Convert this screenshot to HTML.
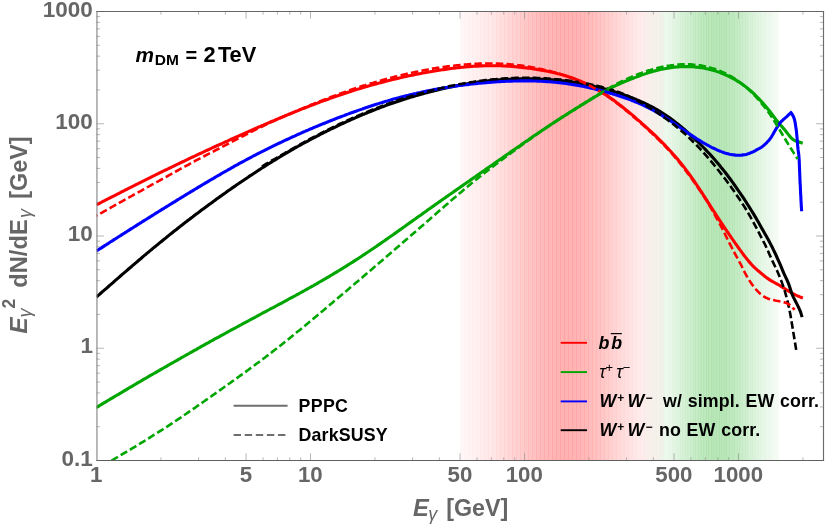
<!DOCTYPE html>
<html><head><meta charset="utf-8"><title>chart</title>
<style>html,body{margin:0;padding:0;background:#fff;}body{width:830px;height:527px;overflow:hidden;font-family:"Liberation Sans",sans-serif;}svg{display:block;will-change:transform;}</style></head>
<body>
<svg width="830" height="527" viewBox="0 0 830 527">
<rect x="0" y="0" width="830" height="527" fill="#fff"/>
<rect x="460.00" y="11.5" width="4.25" height="449.0" fill="#ff0000" fill-opacity="0.033"/>
<rect x="464.00" y="11.5" width="4.25" height="449.0" fill="#ff0000" fill-opacity="0.039"/>
<rect x="468.00" y="11.5" width="4.25" height="449.0" fill="#ff0000" fill-opacity="0.046"/>
<rect x="472.00" y="11.5" width="4.25" height="449.0" fill="#ff0000" fill-opacity="0.053"/>
<rect x="476.00" y="11.5" width="4.25" height="449.0" fill="#ff0000" fill-opacity="0.062"/>
<rect x="480.00" y="11.5" width="4.25" height="449.0" fill="#ff0000" fill-opacity="0.071"/>
<rect x="484.00" y="11.5" width="4.25" height="449.0" fill="#ff0000" fill-opacity="0.081"/>
<rect x="488.00" y="11.5" width="4.25" height="449.0" fill="#ff0000" fill-opacity="0.092"/>
<rect x="492.00" y="11.5" width="4.25" height="449.0" fill="#ff0000" fill-opacity="0.103"/>
<rect x="496.00" y="11.5" width="4.25" height="449.0" fill="#ff0000" fill-opacity="0.116"/>
<rect x="500.00" y="11.5" width="4.25" height="449.0" fill="#ff0000" fill-opacity="0.129"/>
<rect x="504.00" y="11.5" width="4.25" height="449.0" fill="#ff0000" fill-opacity="0.143"/>
<rect x="508.00" y="11.5" width="4.25" height="449.0" fill="#ff0000" fill-opacity="0.157"/>
<rect x="512.00" y="11.5" width="4.25" height="449.0" fill="#ff0000" fill-opacity="0.171"/>
<rect x="516.00" y="11.5" width="4.25" height="449.0" fill="#ff0000" fill-opacity="0.186"/>
<rect x="520.00" y="11.5" width="4.25" height="449.0" fill="#ff0000" fill-opacity="0.200"/>
<rect x="524.00" y="11.5" width="4.25" height="449.0" fill="#ff0000" fill-opacity="0.214"/>
<rect x="528.00" y="11.5" width="4.25" height="449.0" fill="#ff0000" fill-opacity="0.228"/>
<rect x="532.00" y="11.5" width="4.25" height="449.0" fill="#ff0000" fill-opacity="0.241"/>
<rect x="536.00" y="11.5" width="4.25" height="449.0" fill="#ff0000" fill-opacity="0.254"/>
<rect x="540.00" y="11.5" width="4.25" height="449.0" fill="#ff0000" fill-opacity="0.265"/>
<rect x="544.00" y="11.5" width="4.25" height="449.0" fill="#ff0000" fill-opacity="0.275"/>
<rect x="548.00" y="11.5" width="4.25" height="449.0" fill="#ff0000" fill-opacity="0.283"/>
<rect x="552.00" y="11.5" width="4.25" height="449.0" fill="#ff0000" fill-opacity="0.290"/>
<rect x="556.00" y="11.5" width="4.25" height="449.0" fill="#ff0000" fill-opacity="0.295"/>
<rect x="560.00" y="11.5" width="4.25" height="449.0" fill="#ff0000" fill-opacity="0.299"/>
<rect x="564.00" y="11.5" width="4.25" height="449.0" fill="#ff0000" fill-opacity="0.300"/>
<rect x="568.00" y="11.5" width="4.25" height="449.0" fill="#ff0000" fill-opacity="0.299"/>
<rect x="572.00" y="11.5" width="4.25" height="449.0" fill="#ff0000" fill-opacity="0.296"/>
<rect x="576.00" y="11.5" width="4.25" height="449.0" fill="#ff0000" fill-opacity="0.291"/>
<rect x="580.00" y="11.5" width="4.25" height="449.0" fill="#ff0000" fill-opacity="0.283"/>
<rect x="584.00" y="11.5" width="4.25" height="449.0" fill="#ff0000" fill-opacity="0.273"/>
<rect x="588.00" y="11.5" width="4.25" height="449.0" fill="#ff0000" fill-opacity="0.262"/>
<rect x="592.00" y="11.5" width="4.25" height="449.0" fill="#ff0000" fill-opacity="0.249"/>
<rect x="596.00" y="11.5" width="4.25" height="449.0" fill="#ff0000" fill-opacity="0.234"/>
<rect x="600.00" y="11.5" width="4.25" height="449.0" fill="#ff0000" fill-opacity="0.219"/>
<rect x="604.00" y="11.5" width="4.25" height="449.0" fill="#ff0000" fill-opacity="0.203"/>
<rect x="608.00" y="11.5" width="4.25" height="449.0" fill="#ff0000" fill-opacity="0.186"/>
<rect x="612.00" y="11.5" width="4.25" height="449.0" fill="#ff0000" fill-opacity="0.170"/>
<rect x="616.00" y="11.5" width="4.25" height="449.0" fill="#ff0000" fill-opacity="0.153"/>
<rect x="620.00" y="11.5" width="4.25" height="449.0" fill="#ff0000" fill-opacity="0.137"/>
<rect x="624.00" y="11.5" width="4.25" height="449.0" fill="#ff0000" fill-opacity="0.122"/>
<rect x="628.00" y="11.5" width="4.25" height="449.0" fill="#ff0000" fill-opacity="0.108"/>
<rect x="632.00" y="11.5" width="4.25" height="449.0" fill="#ff0000" fill-opacity="0.094"/>
<rect x="636.00" y="11.5" width="4.25" height="449.0" fill="#ff0000" fill-opacity="0.082"/>
<rect x="640.00" y="11.5" width="4.25" height="449.0" fill="#ff0000" fill-opacity="0.070"/>
<rect x="644.00" y="11.5" width="4.25" height="449.0" fill="#ff0000" fill-opacity="0.060"/>
<rect x="648.00" y="11.5" width="4.25" height="449.0" fill="#ff0000" fill-opacity="0.051"/>
<rect x="652.00" y="11.5" width="4.25" height="449.0" fill="#ff0000" fill-opacity="0.042"/>
<rect x="656.00" y="11.5" width="4.25" height="449.0" fill="#ff0000" fill-opacity="0.035"/>
<rect x="660.00" y="11.5" width="4.25" height="449.0" fill="#ff0000" fill-opacity="0.029"/>
<rect x="643.60" y="11.5" width="2.85" height="449.0" fill="#00a600" fill-opacity="0.018"/>
<rect x="646.20" y="11.5" width="2.85" height="449.0" fill="#00a600" fill-opacity="0.022"/>
<rect x="648.80" y="11.5" width="2.85" height="449.0" fill="#00a600" fill-opacity="0.027"/>
<rect x="651.40" y="11.5" width="2.85" height="449.0" fill="#00a600" fill-opacity="0.032"/>
<rect x="654.00" y="11.5" width="2.85" height="449.0" fill="#00a600" fill-opacity="0.038"/>
<rect x="656.60" y="11.5" width="2.85" height="449.0" fill="#00a600" fill-opacity="0.045"/>
<rect x="659.20" y="11.5" width="2.85" height="449.0" fill="#00a600" fill-opacity="0.052"/>
<rect x="661.80" y="11.5" width="2.85" height="449.0" fill="#00a600" fill-opacity="0.061"/>
<rect x="664.40" y="11.5" width="2.85" height="449.0" fill="#00a600" fill-opacity="0.070"/>
<rect x="667.00" y="11.5" width="2.85" height="449.0" fill="#00a600" fill-opacity="0.080"/>
<rect x="669.60" y="11.5" width="2.85" height="449.0" fill="#00a600" fill-opacity="0.091"/>
<rect x="672.20" y="11.5" width="2.85" height="449.0" fill="#00a600" fill-opacity="0.103"/>
<rect x="674.80" y="11.5" width="2.85" height="449.0" fill="#00a600" fill-opacity="0.115"/>
<rect x="677.40" y="11.5" width="2.85" height="449.0" fill="#00a600" fill-opacity="0.128"/>
<rect x="680.00" y="11.5" width="2.85" height="449.0" fill="#00a600" fill-opacity="0.142"/>
<rect x="682.60" y="11.5" width="2.85" height="449.0" fill="#00a600" fill-opacity="0.156"/>
<rect x="685.20" y="11.5" width="2.85" height="449.0" fill="#00a600" fill-opacity="0.169"/>
<rect x="687.80" y="11.5" width="2.85" height="449.0" fill="#00a600" fill-opacity="0.183"/>
<rect x="690.40" y="11.5" width="2.85" height="449.0" fill="#00a600" fill-opacity="0.197"/>
<rect x="693.00" y="11.5" width="2.85" height="449.0" fill="#00a600" fill-opacity="0.210"/>
<rect x="695.60" y="11.5" width="2.85" height="449.0" fill="#00a600" fill-opacity="0.223"/>
<rect x="698.20" y="11.5" width="2.85" height="449.0" fill="#00a600" fill-opacity="0.234"/>
<rect x="700.80" y="11.5" width="2.85" height="449.0" fill="#00a600" fill-opacity="0.245"/>
<rect x="703.40" y="11.5" width="2.85" height="449.0" fill="#00a600" fill-opacity="0.254"/>
<rect x="706.00" y="11.5" width="2.85" height="449.0" fill="#00a600" fill-opacity="0.262"/>
<rect x="708.60" y="11.5" width="2.85" height="449.0" fill="#00a600" fill-opacity="0.268"/>
<rect x="711.20" y="11.5" width="2.85" height="449.0" fill="#00a600" fill-opacity="0.272"/>
<rect x="713.80" y="11.5" width="2.85" height="449.0" fill="#00a600" fill-opacity="0.274"/>
<rect x="716.40" y="11.5" width="2.85" height="449.0" fill="#00a600" fill-opacity="0.275"/>
<rect x="719.00" y="11.5" width="2.85" height="449.0" fill="#00a600" fill-opacity="0.273"/>
<rect x="721.60" y="11.5" width="2.85" height="449.0" fill="#00a600" fill-opacity="0.270"/>
<rect x="724.20" y="11.5" width="2.85" height="449.0" fill="#00a600" fill-opacity="0.265"/>
<rect x="726.80" y="11.5" width="2.85" height="449.0" fill="#00a600" fill-opacity="0.258"/>
<rect x="729.40" y="11.5" width="2.85" height="449.0" fill="#00a600" fill-opacity="0.249"/>
<rect x="732.00" y="11.5" width="2.85" height="449.0" fill="#00a600" fill-opacity="0.239"/>
<rect x="734.60" y="11.5" width="2.85" height="449.0" fill="#00a600" fill-opacity="0.228"/>
<rect x="737.20" y="11.5" width="2.85" height="449.0" fill="#00a600" fill-opacity="0.216"/>
<rect x="739.80" y="11.5" width="2.85" height="449.0" fill="#00a600" fill-opacity="0.203"/>
<rect x="742.40" y="11.5" width="2.85" height="449.0" fill="#00a600" fill-opacity="0.190"/>
<rect x="745.00" y="11.5" width="2.85" height="449.0" fill="#00a600" fill-opacity="0.176"/>
<rect x="747.60" y="11.5" width="2.85" height="449.0" fill="#00a600" fill-opacity="0.162"/>
<rect x="750.20" y="11.5" width="2.85" height="449.0" fill="#00a600" fill-opacity="0.148"/>
<rect x="752.80" y="11.5" width="2.85" height="449.0" fill="#00a600" fill-opacity="0.134"/>
<rect x="755.40" y="11.5" width="2.85" height="449.0" fill="#00a600" fill-opacity="0.121"/>
<rect x="758.00" y="11.5" width="2.85" height="449.0" fill="#00a600" fill-opacity="0.108"/>
<rect x="760.60" y="11.5" width="2.85" height="449.0" fill="#00a600" fill-opacity="0.096"/>
<rect x="763.20" y="11.5" width="2.85" height="449.0" fill="#00a600" fill-opacity="0.085"/>
<rect x="765.80" y="11.5" width="2.85" height="449.0" fill="#00a600" fill-opacity="0.075"/>
<rect x="768.40" y="11.5" width="2.85" height="449.0" fill="#00a600" fill-opacity="0.065"/>
<rect x="771.00" y="11.5" width="2.85" height="449.0" fill="#00a600" fill-opacity="0.056"/>
<rect x="773.60" y="11.5" width="2.85" height="449.0" fill="#00a600" fill-opacity="0.048"/>
<rect x="776.20" y="11.5" width="2.55" height="449.0" fill="#00a600" fill-opacity="0.041"/>
<path d="M160.92 460.50 v-3.20 M160.92 11.50 v3.20 M198.60 460.50 v-3.20 M198.60 11.50 v3.20 M225.34 460.50 v-3.20 M225.34 11.50 v3.20 M246.08 460.50 v-7.20 M246.08 11.50 v7.20 M263.02 460.50 v-3.20 M263.02 11.50 v3.20 M277.35 460.50 v-3.20 M277.35 11.50 v3.20 M289.76 460.50 v-3.20 M289.76 11.50 v3.20 M300.71 460.50 v-3.20 M300.71 11.50 v3.20 M310.50 460.50 v-7.20 M310.50 11.50 v7.20 M374.92 460.50 v-3.20 M374.92 11.50 v3.20 M412.60 460.50 v-3.20 M412.60 11.50 v3.20 M439.34 460.50 v-3.20 M439.34 11.50 v3.20 M460.08 460.50 v-7.20 M460.08 11.50 v7.20 M477.02 460.50 v-3.20 M477.02 11.50 v3.20 M491.35 460.50 v-3.20 M491.35 11.50 v3.20 M503.76 460.50 v-3.20 M503.76 11.50 v3.20 M514.71 460.50 v-3.20 M514.71 11.50 v3.20 M524.50 460.50 v-7.20 M524.50 11.50 v7.20 M588.92 460.50 v-3.20 M588.92 11.50 v3.20 M626.60 460.50 v-3.20 M626.60 11.50 v3.20 M653.34 460.50 v-3.20 M653.34 11.50 v3.20 M674.08 460.50 v-7.20 M674.08 11.50 v7.20 M691.02 460.50 v-3.20 M691.02 11.50 v3.20 M705.35 460.50 v-3.20 M705.35 11.50 v3.20 M717.76 460.50 v-3.20 M717.76 11.50 v3.20 M728.71 460.50 v-3.20 M728.71 11.50 v3.20 M738.50 460.50 v-7.20 M738.50 11.50 v7.20 M802.92 460.50 v-3.20 M802.92 11.50 v3.20 M96.50 426.71 h3.60 M823.50 426.71 h-3.60 M96.50 406.94 h3.60 M823.50 406.94 h-3.60 M96.50 392.92 h3.60 M823.50 392.92 h-3.60 M96.50 382.04 h3.60 M823.50 382.04 h-3.60 M96.50 373.15 h3.60 M823.50 373.15 h-3.60 M96.50 365.64 h3.60 M823.50 365.64 h-3.60 M96.50 359.13 h3.60 M823.50 359.13 h-3.60 M96.50 353.39 h3.60 M823.50 353.39 h-3.60 M96.50 348.25 h7.50 M823.50 348.25 h-7.50 M96.50 314.46 h3.60 M823.50 314.46 h-3.60 M96.50 294.69 h3.60 M823.50 294.69 h-3.60 M96.50 280.67 h3.60 M823.50 280.67 h-3.60 M96.50 269.79 h3.60 M823.50 269.79 h-3.60 M96.50 260.90 h3.60 M823.50 260.90 h-3.60 M96.50 253.39 h3.60 M823.50 253.39 h-3.60 M96.50 246.88 h3.60 M823.50 246.88 h-3.60 M96.50 241.14 h3.60 M823.50 241.14 h-3.60 M96.50 236.00 h7.50 M823.50 236.00 h-7.50 M96.50 202.21 h3.60 M823.50 202.21 h-3.60 M96.50 182.44 h3.60 M823.50 182.44 h-3.60 M96.50 168.42 h3.60 M823.50 168.42 h-3.60 M96.50 157.54 h3.60 M823.50 157.54 h-3.60 M96.50 148.65 h3.60 M823.50 148.65 h-3.60 M96.50 141.14 h3.60 M823.50 141.14 h-3.60 M96.50 134.63 h3.60 M823.50 134.63 h-3.60 M96.50 128.89 h3.60 M823.50 128.89 h-3.60 M96.50 123.75 h7.50 M823.50 123.75 h-7.50 M96.50 89.96 h3.60 M823.50 89.96 h-3.60 M96.50 70.19 h3.60 M823.50 70.19 h-3.60 M96.50 56.17 h3.60 M823.50 56.17 h-3.60 M96.50 45.29 h3.60 M823.50 45.29 h-3.60 M96.50 36.40 h3.60 M823.50 36.40 h-3.60 M96.50 28.89 h3.60 M823.50 28.89 h-3.60 M96.50 22.38 h3.60 M823.50 22.38 h-3.60 M96.50 16.64 h3.60 M823.50 16.64 h-3.60" stroke="#888" stroke-width="0.6" fill="none"/>
<clipPath id="cp"><rect x="96.5" y="11.5" width="727.0" height="449.0"/></clipPath>
<g clip-path="url(#cp)">
<path d="M96.5 204.8 L98.0 204.0 L99.5 203.3 L101.0 202.5 L102.5 201.7 L104.0 201.0 L105.5 200.2 L107.0 199.4 L108.5 198.7 L110.0 197.9 L111.5 197.1 L113.0 196.3 L114.5 195.6 L116.0 194.8 L117.5 194.0 L119.0 193.3 L120.5 192.5 L122.1 191.7 L123.6 191.0 L125.1 190.2 L126.6 189.5 L128.1 188.7 L129.6 187.9 L131.1 187.2 L132.6 186.4 L134.1 185.7 L135.6 184.9 L137.1 184.1 L138.6 183.4 L140.1 182.6 L141.6 181.9 L143.1 181.1 L144.6 180.4 L146.1 179.6 L147.6 178.9 L149.1 178.1 L150.6 177.4 L152.1 176.6 L153.6 175.9 L155.1 175.2 L156.6 174.4 L158.1 173.7 L159.6 172.9 L161.1 172.2 L162.6 171.5 L164.1 170.7 L165.6 170.0 L167.1 169.3 L168.6 168.5 L170.1 167.8 L171.6 167.1 L173.2 166.4 L174.7 165.6 L176.2 164.9 L177.7 164.2 L179.2 163.5 L180.7 162.7 L182.2 162.0 L183.7 161.3 L185.2 160.6 L186.7 159.9 L188.2 159.2 L189.7 158.4 L191.2 157.7 L192.7 157.0 L194.2 156.3 L195.7 155.6 L197.2 154.9 L198.7 154.2 L200.2 153.5 L201.7 152.8 L203.2 152.1 L204.7 151.4 L206.2 150.7 L207.7 150.0 L209.2 149.3 L210.7 148.6 L212.2 147.9 L213.7 147.2 L215.2 146.5 L216.7 145.8 L218.2 145.2 L219.7 144.5 L221.2 143.8 L222.8 143.1 L224.3 142.4 L225.8 141.7 L227.3 141.1 L228.8 140.4 L230.3 139.7 L231.8 139.0 L233.3 138.3 L234.8 137.7 L236.3 137.0 L237.8 136.3 L239.3 135.6 L240.8 135.0 L242.3 134.3 L243.8 133.6 L245.3 133.0 L246.8 132.3 L248.3 131.6 L249.8 131.0 L251.3 130.3 L252.8 129.7 L254.3 129.0 L255.8 128.3 L257.3 127.7 L258.8 127.0 L260.3 126.4 L261.8 125.7 L263.3 125.1 L264.8 124.4 L266.3 123.8 L267.8 123.1 L269.3 122.5 L270.8 121.8 L272.3 121.2 L273.9 120.6 L275.4 119.9 L276.9 119.3 L278.4 118.7 L279.9 118.0 L281.4 117.4 L282.9 116.8 L284.4 116.2 L285.9 115.5 L287.4 114.9 L288.9 114.3 L290.4 113.7 L291.9 113.1 L293.4 112.5 L294.9 111.9 L296.4 111.2 L297.9 110.6 L299.4 110.0 L300.9 109.4 L302.4 108.8 L303.9 108.3 L305.4 107.7 L306.9 107.1 L308.4 106.5 L309.9 105.9 L311.4 105.3 L312.9 104.8 L314.4 104.2 L315.9 103.6 L317.4 103.1 L318.9 102.5 L320.4 101.9 L321.9 101.4 L323.4 100.8 L325.0 100.3 L326.5 99.7 L328.0 99.2 L329.5 98.6 L331.0 98.1 L332.5 97.6 L334.0 97.0 L335.5 96.5 L337.0 96.0 L338.5 95.5 L340.0 95.0 L341.5 94.5 L343.0 94.0 L344.5 93.5 L346.0 93.0 L347.5 92.5 L349.0 92.0 L350.5 91.5 L352.0 91.0 L353.5 90.5 L355.0 90.1 L356.5 89.6 L358.0 89.1 L359.5 88.7 L361.0 88.2 L362.5 87.8 L364.0 87.3 L365.5 86.9 L367.0 86.4 L368.5 86.0 L370.0 85.6 L371.5 85.1 L373.0 84.7 L374.6 84.3 L376.1 83.9 L377.6 83.5 L379.1 83.1 L380.6 82.7 L382.1 82.3 L383.6 81.9 L385.1 81.5 L386.6 81.1 L388.1 80.7 L389.6 80.3 L391.1 80.0 L392.6 79.6 L394.1 79.2 L395.6 78.9 L397.1 78.5 L398.6 78.2 L400.1 77.8 L401.6 77.5 L403.1 77.1 L404.6 76.8 L406.1 76.5 L407.6 76.1 L409.1 75.8 L410.6 75.5 L412.1 75.2 L413.6 74.9 L415.1 74.6 L416.6 74.3 L418.1 74.0 L419.6 73.7 L421.1 73.4 L422.6 73.1 L424.1 72.8 L425.7 72.6 L427.2 72.3 L428.7 72.0 L430.2 71.8 L431.7 71.5 L433.2 71.2 L434.7 71.0 L436.2 70.7 L437.7 70.5 L439.2 70.3 L440.7 70.0 L442.2 69.8 L443.7 69.6 L445.2 69.4 L446.7 69.1 L448.2 68.9 L449.7 68.7 L451.2 68.5 L452.7 68.3 L454.2 68.2 L455.7 68.0 L457.2 67.8 L458.7 67.6 L460.2 67.5 L461.7 67.3 L463.2 67.2 L464.7 67.0 L466.2 66.9 L467.7 66.8 L469.2 66.6 L470.7 66.5 L472.2 66.4 L473.7 66.3 L475.3 66.2 L476.8 66.1 L478.3 66.1 L479.8 66.0 L481.3 65.9 L482.8 65.9 L484.3 65.8 L485.8 65.8 L487.3 65.7 L488.8 65.7 L490.3 65.7 L491.8 65.7 L493.3 65.7 L494.8 65.7 L496.3 65.7 L497.8 65.8 L499.3 65.8 L500.8 65.8 L502.3 65.9 L503.8 66.0 L505.3 66.0 L506.8 66.1 L508.3 66.2 L509.8 66.3 L511.3 66.4 L512.8 66.5 L514.3 66.6 L515.8 66.8 L517.3 66.9 L518.8 67.1 L520.3 67.2 L521.8 67.4 L523.3 67.6 L524.8 67.7 L526.4 67.9 L527.9 68.1 L529.4 68.3 L530.9 68.5 L532.4 68.7 L533.9 69.0 L535.4 69.2 L536.9 69.4 L538.4 69.7 L539.9 69.9 L541.4 70.2 L542.9 70.5 L544.4 70.7 L545.9 71.0 L547.4 71.3 L548.9 71.6 L550.4 71.9 L551.9 72.3 L553.4 72.6 L554.9 72.9 L556.4 73.3 L557.9 73.7 L559.4 74.0 L560.9 74.4 L562.4 74.9 L563.9 75.3 L565.4 75.7 L566.9 76.2 L568.4 76.7 L569.9 77.2 L571.4 77.7 L572.9 78.2 L574.4 78.8 L576.0 79.4 L577.5 79.9 L579.0 80.6 L580.5 81.2 L582.0 81.9 L583.5 82.5 L585.0 83.2 L586.5 83.9 L588.0 84.7 L589.5 85.4 L591.0 86.2 L592.5 86.9 L594.0 87.7 L595.5 88.6 L597.0 89.4 L598.5 90.2 L600.0 91.1 L601.5 92.0 L603.0 93.0 L604.5 93.9 L606.0 94.9 L607.5 95.9 L609.0 96.9 L610.5 98.0 L612.0 99.0 L613.5 100.1 L615.0 101.2 L616.5 102.4 L618.0 103.5 L619.5 104.7 L621.0 105.8 L622.5 107.0 L624.0 108.2 L625.5 109.5 L627.1 110.7 L628.6 111.9 L630.1 113.2 L631.6 114.4 L633.1 115.7 L634.6 117.0 L636.1 118.3 L637.6 119.6 L639.1 120.9 L640.6 122.2 L642.1 123.6 L643.6 124.9 L645.1 126.2 L646.6 127.6 L648.1 129.0 L649.6 130.3 L651.1 131.7 L652.6 133.1 L654.1 134.5 L655.6 135.9 L657.1 137.4 L658.6 138.9 L660.1 140.3 L661.6 141.8 L663.1 143.3 L664.6 144.9 L666.1 146.5 L667.6 148.0 L669.1 149.7 L670.6 151.3 L672.1 153.0 L673.6 154.7 L675.1 156.4 L676.6 158.1 L678.2 159.9 L679.7 161.8 L681.2 163.6 L682.7 165.5 L684.2 167.4 L685.7 169.4 L687.2 171.4 L688.7 173.4 L690.2 175.5 L691.7 177.6 L693.2 179.7 L694.7 181.9 L696.2 184.1 L697.7 186.3 L699.2 188.6 L700.7 190.9 L702.2 193.2 L703.7 195.5 L705.2 197.9 L706.7 200.2 L708.2 202.6 L709.7 204.9 L711.2 207.3 L712.7 209.6 L714.2 211.9 L715.7 214.2 L717.2 216.5 L718.7 218.8 L720.2 221.1 L721.7 223.4 L723.2 225.6 L724.7 227.9 L726.2 230.1 L727.8 232.4 L729.3 234.6 L730.8 236.8 L732.3 239.0 L733.8 241.1 L735.3 243.3 L736.8 245.4 L738.3 247.5 L739.8 249.6 L741.3 251.6 L742.8 253.7 L744.3 255.7 L745.8 257.6 L747.3 259.5 L748.8 261.4 L750.3 263.1 L751.8 264.8 L753.3 266.4 L754.8 267.8 L756.3 269.2 L757.8 270.5 L759.3 271.7 L760.8 273.0 L762.3 274.2 L763.8 275.5 L765.3 276.7 L766.8 277.9 L768.3 278.9 L769.8 279.9 L771.3 280.8 L772.8 281.7 L774.3 282.5 L775.8 283.3 L777.3 284.1 L778.9 285.0 L780.4 285.9 L781.9 286.9 L783.4 287.8 L784.9 288.8 L786.4 289.8 L787.9 290.7 L789.4 291.6 L790.9 292.4 L792.4 293.3 L793.9 294.1 L795.4 294.9 L796.9 295.6 L798.4 296.2 L799.9 296.9 L801.4 297.5 L802.9 298.0" stroke="#ff0000" stroke-width="3.10" fill="none" stroke-linejoin="round" stroke-linecap="butt"/>
<path d="M96.5 297.0 L98.0 295.7 L99.5 294.4 L101.0 293.0 L102.5 291.7 L104.0 290.4 L105.5 289.1 L107.0 287.8 L108.5 286.5 L110.0 285.2 L111.5 283.9 L113.0 282.6 L114.5 281.2 L116.0 279.9 L117.5 278.6 L119.0 277.3 L120.5 276.0 L122.0 274.7 L123.5 273.4 L125.0 272.1 L126.5 270.8 L128.0 269.5 L129.5 268.2 L131.0 267.0 L132.5 265.7 L134.0 264.4 L135.5 263.1 L137.0 261.8 L138.5 260.5 L140.0 259.3 L141.5 258.0 L143.0 256.7 L144.5 255.4 L146.0 254.2 L147.5 252.9 L149.0 251.7 L150.5 250.4 L152.0 249.2 L153.5 247.9 L155.0 246.7 L156.6 245.4 L158.1 244.2 L159.6 242.9 L161.1 241.7 L162.6 240.5 L164.1 239.3 L165.6 238.1 L167.1 236.8 L168.6 235.6 L170.1 234.4 L171.6 233.2 L173.1 232.0 L174.6 230.8 L176.1 229.7 L177.6 228.5 L179.1 227.3 L180.6 226.1 L182.1 225.0 L183.6 223.8 L185.1 222.6 L186.6 221.5 L188.1 220.3 L189.6 219.2 L191.1 218.0 L192.6 216.9 L194.1 215.7 L195.6 214.6 L197.1 213.5 L198.6 212.4 L200.1 211.2 L201.6 210.1 L203.1 209.0 L204.6 207.9 L206.1 206.8 L207.6 205.7 L209.1 204.6 L210.6 203.5 L212.1 202.4 L213.6 201.3 L215.1 200.2 L216.6 199.1 L218.1 198.0 L219.6 196.9 L221.1 195.9 L222.6 194.8 L224.1 193.7 L225.6 192.7 L227.1 191.6 L228.6 190.5 L230.1 189.5 L231.6 188.4 L233.1 187.4 L234.6 186.4 L236.1 185.3 L237.6 184.3 L239.1 183.3 L240.6 182.2 L242.1 181.2 L243.6 180.2 L245.1 179.2 L246.6 178.2 L248.1 177.2 L249.6 176.1 L251.1 175.2 L252.6 174.2 L254.1 173.2 L255.6 172.2 L257.1 171.2 L258.6 170.2 L260.1 169.3 L261.6 168.3 L263.1 167.3 L264.6 166.4 L266.1 165.4 L267.6 164.5 L269.1 163.5 L270.6 162.6 L272.1 161.6 L273.7 160.7 L275.2 159.8 L276.7 158.9 L278.2 158.0 L279.7 157.0 L281.2 156.1 L282.7 155.2 L284.2 154.4 L285.7 153.5 L287.2 152.6 L288.7 151.7 L290.2 150.8 L291.7 150.0 L293.2 149.1 L294.7 148.2 L296.2 147.4 L297.7 146.5 L299.2 145.7 L300.7 144.9 L302.2 144.0 L303.7 143.2 L305.2 142.4 L306.7 141.6 L308.2 140.8 L309.7 140.0 L311.2 139.2 L312.7 138.4 L314.2 137.6 L315.7 136.8 L317.2 136.0 L318.7 135.3 L320.2 134.5 L321.7 133.7 L323.2 133.0 L324.7 132.2 L326.2 131.5 L327.7 130.7 L329.2 130.0 L330.7 129.2 L332.2 128.5 L333.7 127.8 L335.2 127.1 L336.7 126.3 L338.2 125.6 L339.7 124.9 L341.2 124.2 L342.7 123.5 L344.2 122.8 L345.7 122.1 L347.2 121.4 L348.7 120.8 L350.2 120.1 L351.7 119.4 L353.2 118.8 L354.7 118.1 L356.2 117.4 L357.7 116.8 L359.2 116.1 L360.7 115.5 L362.2 114.9 L363.7 114.2 L365.2 113.6 L366.7 113.0 L368.2 112.4 L369.7 111.8 L371.2 111.2 L372.7 110.6 L374.2 110.0 L375.7 109.4 L377.2 108.8 L378.7 108.2 L380.2 107.6 L381.7 107.1 L383.2 106.5 L384.7 106.0 L386.2 105.4 L387.7 104.9 L389.2 104.3 L390.8 103.8 L392.3 103.3 L393.8 102.7 L395.3 102.2 L396.8 101.7 L398.3 101.2 L399.8 100.7 L401.3 100.2 L402.8 99.7 L404.3 99.3 L405.8 98.8 L407.3 98.3 L408.8 97.9 L410.3 97.4 L411.8 96.9 L413.3 96.5 L414.8 96.1 L416.3 95.6 L417.8 95.2 L419.3 94.8 L420.8 94.3 L422.3 93.9 L423.8 93.5 L425.3 93.1 L426.8 92.7 L428.3 92.3 L429.8 91.9 L431.3 91.5 L432.8 91.2 L434.3 90.8 L435.8 90.4 L437.3 90.0 L438.8 89.7 L440.3 89.3 L441.8 89.0 L443.3 88.6 L444.8 88.3 L446.3 88.0 L447.8 87.6 L449.3 87.3 L450.8 87.0 L452.3 86.7 L453.8 86.3 L455.3 86.0 L456.8 85.7 L458.3 85.4 L459.8 85.2 L461.3 84.9 L462.8 84.6 L464.3 84.3 L465.8 84.1 L467.3 83.8 L468.8 83.5 L470.3 83.3 L471.8 83.0 L473.3 82.8 L474.8 82.6 L476.3 82.4 L477.8 82.1 L479.3 81.9 L480.8 81.7 L482.3 81.5 L483.8 81.3 L485.3 81.1 L486.8 81.0 L488.3 80.8 L489.8 80.6 L491.3 80.5 L492.8 80.3 L494.3 80.2 L495.8 80.1 L497.3 79.9 L498.8 79.8 L500.3 79.7 L501.8 79.6 L503.3 79.5 L504.8 79.4 L506.3 79.3 L507.8 79.2 L509.4 79.2 L510.9 79.1 L512.4 79.0 L513.9 79.0 L515.4 78.9 L516.9 78.9 L518.4 78.9 L519.9 78.8 L521.4 78.8 L522.9 78.8 L524.4 78.8 L525.9 78.8 L527.4 78.8 L528.9 78.8 L530.4 78.8 L531.9 78.9 L533.4 78.9 L534.9 78.9 L536.4 79.0 L537.9 79.0 L539.4 79.1 L540.9 79.2 L542.4 79.2 L543.9 79.3 L545.4 79.4 L546.9 79.5 L548.4 79.6 L549.9 79.7 L551.4 79.8 L552.9 79.9 L554.4 80.0 L555.9 80.2 L557.4 80.3 L558.9 80.5 L560.4 80.6 L561.9 80.8 L563.4 80.9 L564.9 81.1 L566.4 81.3 L567.9 81.5 L569.4 81.7 L570.9 81.9 L572.4 82.1 L573.9 82.3 L575.4 82.6 L576.9 82.8 L578.4 83.1 L579.9 83.3 L581.4 83.6 L582.9 83.8 L584.4 84.1 L585.9 84.4 L587.4 84.7 L588.9 85.0 L590.4 85.4 L591.9 85.7 L593.4 86.0 L594.9 86.4 L596.4 86.7 L597.9 87.1 L599.4 87.5 L600.9 87.8 L602.4 88.2 L603.9 88.6 L605.4 89.1 L606.9 89.5 L608.4 89.9 L609.9 90.3 L611.4 90.8 L612.9 91.2 L614.4 91.7 L615.9 92.2 L617.4 92.7 L618.9 93.1 L620.4 93.6 L621.9 94.2 L623.4 94.7 L624.9 95.2 L626.5 95.7 L628.0 96.3 L629.5 96.9 L631.0 97.4 L632.5 98.0 L634.0 98.6 L635.5 99.2 L637.0 99.9 L638.5 100.5 L640.0 101.1 L641.5 101.8 L643.0 102.5 L644.5 103.2 L646.0 103.9 L647.5 104.6 L649.0 105.4 L650.5 106.1 L652.0 106.9 L653.5 107.7 L655.0 108.6 L656.5 109.4 L658.0 110.3 L659.5 111.2 L661.0 112.1 L662.5 113.0 L664.0 114.0 L665.5 115.0 L667.0 116.0 L668.5 117.0 L670.0 118.1 L671.5 119.2 L673.0 120.3 L674.5 121.4 L676.0 122.6 L677.5 123.8 L679.0 125.0 L680.5 126.2 L682.0 127.5 L683.5 128.7 L685.0 130.0 L686.5 131.3 L688.0 132.7 L689.5 134.0 L691.0 135.4 L692.5 136.8 L694.0 138.2 L695.5 139.6 L697.0 141.0 L698.5 142.5 L700.0 144.0 L701.5 145.5 L703.0 147.0 L704.5 148.5 L706.0 150.1 L707.5 151.7 L709.0 153.3 L710.5 154.9 L712.0 156.6 L713.5 158.3 L715.0 160.0 L716.5 161.7 L718.0 163.5 L719.5 165.3 L721.0 167.2 L722.5 169.0 L724.0 170.9 L725.5 172.8 L727.0 174.8 L728.5 176.8 L730.0 178.8 L731.5 180.8 L733.0 182.9 L734.5 185.0 L736.0 187.1 L737.5 189.3 L739.0 191.5 L740.5 193.7 L742.0 195.9 L743.6 198.2 L745.1 200.5 L746.6 202.8 L748.1 205.2 L749.6 207.6 L751.1 210.0 L752.6 212.4 L754.1 214.9 L755.6 217.4 L757.1 220.0 L758.6 222.6 L760.1 225.2 L761.6 227.9 L763.1 230.5 L764.6 233.2 L766.1 235.8 L767.6 238.4 L769.1 241.2 L770.6 244.1 L772.1 247.0 L773.6 250.1 L775.1 253.2 L776.6 256.5 L778.1 259.8 L779.6 263.2 L781.1 266.7 L782.6 270.4 L784.1 273.9 L785.6 277.1 L787.1 280.2 L788.6 283.8 L790.1 288.3 L791.6 293.0 L793.1 296.6 L794.6 299.6 L796.1 302.4 L797.6 305.4 L799.1 308.5 L800.6 312.1 L802.1 317.1" stroke="#000000" stroke-width="3.10" fill="none" stroke-linejoin="round" stroke-linecap="butt"/>
<path d="M96.0 407.7 L97.5 406.8 L99.0 405.9 L100.5 405.0 L102.0 404.1 L103.5 403.2 L105.0 402.3 L106.5 401.4 L108.0 400.5 L109.5 399.6 L111.0 398.7 L112.5 397.8 L114.0 396.9 L115.5 396.0 L117.0 395.1 L118.5 394.3 L120.0 393.4 L121.5 392.5 L123.0 391.6 L124.5 390.7 L126.0 389.8 L127.5 388.9 L129.0 388.0 L130.5 387.1 L132.0 386.3 L133.5 385.4 L135.0 384.5 L136.5 383.6 L138.0 382.7 L139.5 381.9 L141.0 381.0 L142.5 380.1 L144.0 379.2 L145.5 378.4 L147.0 377.5 L148.5 376.6 L150.0 375.7 L151.5 374.9 L153.0 374.0 L154.5 373.2 L156.0 372.3 L157.5 371.4 L159.0 370.6 L160.5 369.7 L162.0 368.8 L163.5 368.0 L165.0 367.1 L166.5 366.3 L168.0 365.4 L169.5 364.5 L171.0 363.7 L172.5 362.8 L174.0 362.0 L175.5 361.1 L177.0 360.3 L178.5 359.4 L180.0 358.6 L181.5 357.7 L183.0 356.9 L184.5 356.0 L186.0 355.2 L187.5 354.3 L189.0 353.5 L190.5 352.6 L192.0 351.8 L193.5 350.9 L195.0 350.1 L196.5 349.3 L198.0 348.4 L199.5 347.6 L201.0 346.7 L202.5 345.9 L204.0 345.1 L205.5 344.2 L207.0 343.4 L208.5 342.6 L210.0 341.7 L211.5 340.9 L213.0 340.1 L214.5 339.2 L216.0 338.4 L217.5 337.6 L219.0 336.8 L220.5 335.9 L222.0 335.1 L223.5 334.3 L225.0 333.5 L226.5 332.7 L228.0 331.8 L229.5 331.0 L231.0 330.2 L232.5 329.4 L234.0 328.6 L235.5 327.8 L237.0 327.0 L238.5 326.1 L240.0 325.3 L241.5 324.5 L243.0 323.7 L244.5 322.9 L246.0 322.1 L247.5 321.3 L249.0 320.5 L250.5 319.7 L252.0 318.9 L253.5 318.1 L255.0 317.3 L256.5 316.5 L258.0 315.6 L259.5 314.8 L261.0 314.0 L262.5 313.2 L264.0 312.4 L265.5 311.6 L267.0 310.8 L268.5 310.0 L270.0 309.2 L271.5 308.4 L273.1 307.6 L274.6 306.8 L276.1 306.0 L277.6 305.2 L279.1 304.4 L280.6 303.6 L282.1 302.8 L283.6 302.0 L285.1 301.2 L286.6 300.4 L288.1 299.5 L289.6 298.7 L291.1 297.9 L292.6 297.1 L294.1 296.3 L295.6 295.5 L297.1 294.6 L298.6 293.8 L300.1 293.0 L301.6 292.2 L303.1 291.3 L304.6 290.5 L306.1 289.7 L307.6 288.8 L309.1 288.0 L310.6 287.2 L312.1 286.3 L313.6 285.5 L315.1 284.6 L316.6 283.8 L318.1 282.9 L319.6 282.0 L321.1 281.2 L322.6 280.3 L324.1 279.4 L325.6 278.6 L327.1 277.7 L328.6 276.8 L330.1 275.9 L331.6 275.0 L333.1 274.1 L334.6 273.2 L336.1 272.3 L337.6 271.4 L339.1 270.5 L340.6 269.6 L342.1 268.7 L343.6 267.7 L345.1 266.8 L346.6 265.9 L348.1 264.9 L349.6 264.0 L351.1 263.0 L352.6 262.1 L354.1 261.1 L355.6 260.1 L357.1 259.2 L358.6 258.2 L360.1 257.2 L361.6 256.2 L363.1 255.2 L364.6 254.3 L366.1 253.3 L367.6 252.3 L369.1 251.3 L370.6 250.2 L372.1 249.2 L373.6 248.2 L375.1 247.2 L376.6 246.2 L378.1 245.1 L379.6 244.1 L381.1 243.1 L382.6 242.0 L384.1 241.0 L385.6 239.9 L387.1 238.9 L388.6 237.8 L390.1 236.8 L391.6 235.7 L393.1 234.7 L394.6 233.6 L396.1 232.6 L397.6 231.5 L399.1 230.4 L400.6 229.4 L402.1 228.3 L403.6 227.2 L405.1 226.2 L406.6 225.1 L408.1 224.0 L409.6 222.9 L411.1 221.9 L412.6 220.8 L414.1 219.7 L415.6 218.7 L417.1 217.6 L418.6 216.5 L420.1 215.5 L421.6 214.4 L423.1 213.3 L424.6 212.2 L426.1 211.2 L427.6 210.1 L429.1 209.0 L430.6 208.0 L432.1 206.9 L433.6 205.9 L435.1 204.8 L436.6 203.7 L438.1 202.7 L439.6 201.6 L441.1 200.6 L442.6 199.5 L444.1 198.5 L445.6 197.4 L447.1 196.4 L448.6 195.3 L450.1 194.3 L451.6 193.2 L453.1 192.2 L454.6 191.1 L456.1 190.1 L457.6 189.0 L459.1 188.0 L460.6 186.9 L462.1 185.9 L463.6 184.8 L465.1 183.8 L466.6 182.7 L468.1 181.7 L469.6 180.7 L471.1 179.6 L472.6 178.6 L474.1 177.5 L475.6 176.5 L477.1 175.4 L478.6 174.4 L480.1 173.3 L481.6 172.3 L483.1 171.2 L484.6 170.2 L486.1 169.1 L487.6 168.1 L489.1 167.0 L490.6 166.0 L492.1 165.0 L493.6 163.9 L495.1 162.9 L496.6 161.8 L498.1 160.8 L499.6 159.7 L501.1 158.7 L502.6 157.7 L504.1 156.6 L505.6 155.6 L507.1 154.5 L508.6 153.5 L510.1 152.4 L511.6 151.4 L513.1 150.4 L514.6 149.3 L516.1 148.3 L517.6 147.2 L519.1 146.2 L520.6 145.2 L522.1 144.1 L523.6 143.1 L525.1 142.0 L526.6 141.0 L528.1 140.0 L529.6 138.9 L531.1 137.9 L532.6 136.8 L534.1 135.8 L535.6 134.8 L537.1 133.8 L538.6 132.7 L540.1 131.7 L541.6 130.7 L543.1 129.7 L544.6 128.7 L546.1 127.7 L547.6 126.7 L549.1 125.7 L550.6 124.7 L552.1 123.7 L553.6 122.7 L555.1 121.7 L556.6 120.8 L558.1 119.8 L559.6 118.9 L561.1 117.9 L562.6 116.9 L564.1 116.0 L565.6 115.0 L567.1 114.1 L568.6 113.1 L570.1 112.2 L571.6 111.3 L573.1 110.3 L574.6 109.4 L576.1 108.4 L577.6 107.5 L579.1 106.6 L580.6 105.6 L582.1 104.7 L583.6 103.8 L585.1 102.9 L586.6 101.9 L588.1 101.0 L589.6 100.1 L591.1 99.2 L592.6 98.3 L594.1 97.4 L595.6 96.5 L597.1 95.6 L598.6 94.7 L600.1 93.9 L601.6 93.0 L603.1 92.2 L604.6 91.4 L606.1 90.5 L607.6 89.7 L609.1 88.9 L610.6 88.2 L612.1 87.4 L613.6 86.7 L615.1 85.9 L616.6 85.2 L618.1 84.5 L619.6 83.8 L621.1 83.1 L622.6 82.5 L624.1 81.8 L625.6 81.2 L627.2 80.6 L628.7 80.0 L630.2 79.4 L631.7 78.8 L633.2 78.2 L634.7 77.6 L636.2 77.1 L637.7 76.5 L639.2 76.0 L640.7 75.4 L642.2 74.9 L643.7 74.4 L645.2 73.9 L646.7 73.4 L648.2 72.9 L649.7 72.4 L651.2 71.9 L652.7 71.5 L654.2 71.1 L655.7 70.7 L657.2 70.3 L658.7 69.9 L660.2 69.6 L661.7 69.3 L663.2 68.9 L664.7 68.7 L666.2 68.4 L667.7 68.1 L669.2 67.9 L670.7 67.7 L672.2 67.5 L673.7 67.3 L675.2 67.1 L676.7 67.0 L678.2 66.9 L679.7 66.8 L681.2 66.7 L682.7 66.6 L684.2 66.6 L685.7 66.6 L687.2 66.6 L688.7 66.6 L690.2 66.6 L691.7 66.7 L693.2 66.8 L694.7 66.9 L696.2 67.1 L697.7 67.2 L699.2 67.4 L700.7 67.6 L702.2 67.8 L703.7 68.1 L705.2 68.4 L706.7 68.7 L708.2 69.0 L709.7 69.4 L711.2 69.8 L712.7 70.2 L714.2 70.6 L715.7 71.1 L717.2 71.6 L718.7 72.1 L720.2 72.6 L721.7 73.2 L723.2 73.8 L724.7 74.5 L726.2 75.1 L727.7 75.8 L729.2 76.5 L730.7 77.3 L732.2 78.1 L733.7 78.9 L735.2 79.7 L736.7 80.6 L738.2 81.6 L739.7 82.5 L741.2 83.5 L742.7 84.6 L744.2 85.6 L745.7 86.8 L747.2 87.9 L748.7 89.2 L750.2 90.4 L751.7 91.7 L753.2 93.1 L754.7 94.5 L756.2 96.0 L757.7 97.5 L759.2 99.1 L760.7 100.7 L762.2 102.4 L763.7 104.1 L765.2 105.8 L766.7 107.6 L768.2 109.4 L769.7 111.3 L771.2 113.2 L772.7 115.2 L774.2 117.2 L775.7 119.2 L777.2 121.1 L778.7 122.9 L780.2 124.7 L781.7 126.4 L783.2 128.1 L784.7 129.8 L786.2 131.7 L787.7 133.6 L789.2 135.6 L790.7 137.3 L792.2 138.8 L793.7 140.0 L795.2 140.8 L796.7 141.3 L798.2 141.8 L799.7 142.3 L801.2 142.8 L802.7 143.3" stroke="#00a600" stroke-width="3.10" fill="none" stroke-linejoin="round" stroke-linecap="butt"/>
<path d="M96.5 251.0 L98.0 250.0 L99.5 249.0 L101.0 248.1 L102.5 247.1 L104.0 246.1 L105.5 245.2 L107.0 244.2 L108.5 243.3 L110.0 242.3 L111.5 241.3 L113.0 240.4 L114.5 239.4 L116.0 238.5 L117.5 237.5 L119.0 236.5 L120.5 235.6 L122.0 234.6 L123.5 233.7 L125.0 232.7 L126.5 231.8 L128.0 230.8 L129.5 229.9 L131.0 228.9 L132.5 228.0 L134.0 227.0 L135.5 226.1 L137.0 225.1 L138.5 224.2 L140.0 223.2 L141.5 222.3 L143.0 221.3 L144.5 220.4 L146.0 219.5 L147.5 218.5 L149.0 217.6 L150.5 216.7 L152.0 215.7 L153.5 214.8 L155.0 213.8 L156.5 212.9 L158.0 212.0 L159.5 211.0 L161.0 210.1 L162.5 209.2 L164.0 208.3 L165.5 207.3 L167.0 206.4 L168.5 205.5 L170.0 204.5 L171.5 203.6 L173.0 202.7 L174.5 201.8 L176.0 200.9 L177.5 199.9 L179.0 199.0 L180.5 198.1 L182.0 197.2 L183.5 196.3 L185.0 195.3 L186.5 194.4 L188.0 193.5 L189.5 192.6 L191.0 191.7 L192.5 190.8 L194.0 189.9 L195.5 189.0 L197.0 188.1 L198.5 187.2 L200.0 186.3 L201.5 185.4 L203.0 184.5 L204.5 183.6 L206.0 182.7 L207.5 181.8 L209.0 180.9 L210.5 180.0 L212.0 179.1 L213.5 178.3 L215.0 177.4 L216.5 176.5 L218.0 175.6 L219.5 174.8 L221.0 173.9 L222.5 173.0 L224.0 172.2 L225.5 171.3 L227.0 170.5 L228.5 169.6 L230.0 168.8 L231.5 167.9 L233.0 167.1 L234.5 166.2 L236.0 165.4 L237.5 164.6 L239.0 163.7 L240.5 162.9 L242.0 162.1 L243.5 161.3 L245.0 160.5 L246.5 159.7 L248.0 158.9 L249.5 158.1 L251.0 157.3 L252.5 156.5 L254.0 155.7 L255.5 155.0 L257.0 154.2 L258.5 153.4 L260.0 152.6 L261.5 151.9 L263.0 151.1 L264.5 150.4 L266.0 149.6 L267.5 148.9 L269.0 148.1 L270.5 147.4 L272.0 146.7 L273.5 145.9 L275.0 145.2 L276.5 144.5 L278.0 143.7 L279.5 143.0 L281.0 142.3 L282.5 141.6 L284.0 140.9 L285.5 140.2 L287.0 139.5 L288.5 138.8 L290.0 138.1 L291.5 137.4 L293.0 136.7 L294.5 136.1 L296.0 135.4 L297.5 134.7 L299.0 134.0 L300.5 133.4 L302.0 132.7 L303.5 132.0 L305.0 131.4 L306.5 130.7 L308.0 130.1 L309.5 129.4 L311.0 128.8 L312.5 128.2 L314.0 127.5 L315.5 126.9 L317.0 126.3 L318.5 125.6 L320.0 125.0 L321.5 124.4 L323.0 123.8 L324.5 123.2 L326.0 122.6 L327.5 122.0 L329.0 121.4 L330.5 120.8 L332.0 120.2 L333.5 119.6 L335.0 119.0 L336.5 118.4 L338.0 117.8 L339.5 117.3 L341.0 116.7 L342.5 116.1 L344.0 115.6 L345.5 115.0 L347.0 114.4 L348.5 113.9 L350.0 113.3 L351.5 112.8 L353.0 112.2 L354.5 111.7 L356.0 111.2 L357.5 110.6 L359.0 110.1 L360.5 109.6 L362.0 109.1 L363.5 108.5 L365.0 108.0 L366.5 107.5 L368.0 107.0 L369.5 106.5 L371.0 106.0 L372.5 105.5 L374.0 105.0 L375.5 104.5 L377.0 104.1 L378.5 103.6 L380.0 103.1 L381.5 102.7 L383.0 102.2 L384.5 101.7 L386.0 101.3 L387.5 100.9 L389.0 100.4 L390.5 100.0 L392.0 99.5 L393.5 99.1 L395.0 98.7 L396.5 98.3 L398.0 97.9 L399.5 97.5 L401.0 97.1 L402.5 96.7 L404.0 96.3 L405.5 95.9 L407.0 95.5 L408.5 95.2 L410.0 94.8 L411.5 94.4 L413.0 94.1 L414.5 93.7 L416.0 93.4 L417.5 93.0 L419.0 92.7 L420.5 92.4 L422.0 92.0 L423.5 91.7 L425.0 91.4 L426.5 91.1 L428.0 90.8 L429.5 90.5 L431.0 90.2 L432.5 89.9 L434.0 89.6 L435.5 89.3 L437.0 89.1 L438.5 88.8 L440.0 88.5 L441.5 88.3 L443.0 88.0 L444.5 87.8 L446.0 87.5 L447.5 87.3 L449.0 87.0 L450.5 86.8 L452.0 86.6 L453.5 86.3 L455.0 86.1 L456.5 85.9 L458.0 85.7 L459.5 85.5 L461.0 85.3 L462.5 85.1 L464.0 84.9 L465.5 84.7 L467.0 84.6 L468.5 84.4 L470.0 84.2 L471.5 84.0 L473.0 83.9 L474.5 83.7 L476.0 83.6 L477.5 83.4 L479.0 83.3 L480.5 83.1 L482.0 83.0 L483.5 82.9 L485.0 82.7 L486.5 82.6 L488.0 82.5 L489.5 82.4 L491.0 82.2 L492.5 82.1 L494.0 82.0 L495.5 81.9 L497.0 81.8 L498.5 81.7 L500.0 81.6 L501.5 81.5 L503.0 81.5 L504.5 81.4 L506.0 81.3 L507.5 81.2 L509.0 81.2 L510.5 81.1 L512.0 81.1 L513.5 81.0 L515.0 81.0 L516.5 81.0 L518.0 80.9 L519.5 80.9 L521.0 80.9 L522.5 80.9 L524.0 80.9 L525.5 80.9 L527.0 80.9 L528.5 80.9 L530.0 80.9 L531.5 80.9 L533.0 81.0 L534.5 81.0 L536.0 81.0 L537.5 81.1 L539.0 81.2 L540.5 81.2 L542.0 81.3 L543.5 81.4 L545.0 81.5 L546.5 81.6 L548.0 81.7 L549.5 81.8 L551.0 81.9 L552.5 82.0 L554.0 82.2 L555.5 82.3 L557.0 82.5 L558.5 82.6 L560.0 82.8 L561.5 83.0 L563.0 83.2 L564.5 83.3 L566.0 83.5 L567.5 83.8 L569.0 84.0 L570.5 84.2 L572.0 84.4 L573.5 84.7 L575.0 84.9 L576.5 85.2 L578.0 85.4 L579.5 85.7 L581.0 86.0 L582.5 86.3 L584.0 86.6 L585.5 86.9 L587.0 87.2 L588.5 87.5 L590.0 87.9 L591.5 88.2 L593.0 88.6 L594.5 88.9 L596.0 89.3 L597.5 89.7 L599.0 90.0 L600.5 90.4 L602.0 90.8 L603.5 91.2 L605.0 91.7 L606.5 92.1 L608.0 92.5 L609.5 93.0 L611.0 93.4 L612.5 93.9 L614.0 94.3 L615.5 94.8 L617.0 95.3 L618.5 95.7 L620.0 96.2 L621.5 96.7 L623.0 97.2 L624.5 97.7 L626.0 98.3 L627.5 98.8 L629.0 99.3 L630.5 99.9 L632.0 100.5 L633.5 101.1 L635.0 101.7 L636.5 102.3 L638.0 102.9 L639.5 103.6 L641.0 104.2 L642.5 104.9 L644.0 105.6 L645.5 106.3 L647.0 107.1 L648.5 107.8 L650.0 108.6 L651.5 109.4 L653.0 110.2 L654.5 111.0 L656.0 111.9 L657.5 112.7 L659.0 113.6 L660.5 114.5 L662.0 115.4 L663.5 116.4 L665.0 117.3 L666.5 118.3 L668.0 119.3 L669.5 120.3 L671.0 121.3 L672.5 122.3 L674.0 123.3 L675.5 124.4 L677.0 125.4 L678.5 126.5 L680.0 127.5 L681.5 128.5 L683.0 129.6 L684.5 130.6 L686.0 131.6 L687.5 132.7 L689.0 133.7 L690.5 134.7 L692.0 135.6 L693.5 136.6 L695.0 137.6 L696.5 138.6 L698.0 139.5 L699.5 140.4 L701.0 141.4 L702.5 142.3 L704.0 143.1 L705.5 144.0 L707.0 144.9 L708.5 145.7 L710.0 146.5 L711.5 147.3 L713.0 148.0 L714.5 148.7 L716.0 149.4 L717.5 150.1 L719.0 150.8 L720.5 151.4 L722.0 151.9 L723.5 152.5 L725.0 153.0 L726.5 153.4 L728.0 153.8 L729.5 154.2 L731.0 154.5 L732.5 154.8 L734.0 154.9 L735.5 155.1 L737.0 155.2 L738.5 155.2 L740.0 155.2 L741.5 155.1 L743.0 154.9 L744.5 154.7 L746.0 154.4 L747.5 154.0 L749.0 153.5 L750.5 152.9 L752.0 152.3 L753.5 151.6 L755.0 150.8 L756.5 149.9 L758.0 149.1 L759.5 148.4 L761.0 147.5 L762.5 146.4 L764.0 145.2 L765.5 143.8 L767.0 142.3 L768.5 140.7 L770.0 138.9 L771.5 136.8 L773.0 134.3 L774.5 131.6 L776.0 128.9 L777.5 126.6 L779.0 124.4 L780.5 122.4 L782.0 120.8 L783.5 119.4 L785.0 118.1 L786.5 116.8 L788.0 115.4 L789.5 114.0 L791.0 112.5 L792.4 114.7 L793.6 117.0 L794.4 119.3 L795.0 121.8 L795.4 124.3 L795.8 126.9 L796.2 129.5 L796.5 132.0 L796.7 134.5 L797.0 137.1 L797.2 139.7 L797.4 142.2 L797.6 144.8 L797.8 147.3 L798.1 149.9 L798.5 152.4 L798.8 154.9 L799.0 157.5 L799.2 160.0 L799.3 162.6 L799.4 165.1 L799.5 167.7 L799.6 170.3 L799.7 172.8 L799.8 175.4 L799.9 178.0 L800.0 180.5 L800.1 183.1 L800.3 185.6 L800.4 188.2 L800.5 190.7 L800.6 193.3 L800.8 195.9 L800.9 198.4 L801.0 201.0 L801.2 203.5 L801.3 206.1 L801.5 208.6 L801.6 211.2" stroke="#0000ff" stroke-width="3.10" fill="none" stroke-linejoin="round"/>
<path d="M262.0 166.4 L263.5 165.5 L265.0 164.6 L266.5 163.7 L268.0 162.9 L269.5 162.0 L271.0 161.1 L272.5 160.2 L274.0 159.4 L275.5 158.5 L277.0 157.6 L278.5 156.7 L280.0 155.9 L281.5 155.0 L283.0 154.1 L284.5 153.3 L286.0 152.4 L287.5 151.5 L289.0 150.7 L290.5 149.8 L292.0 149.0 L293.5 148.1 L295.0 147.3 L296.5 146.4 L298.0 145.6 L299.5 144.8 L301.0 143.9 L302.5 143.1 L304.0 142.3 L305.5 141.5 L307.0 140.7 L308.5 139.8 L310.0 139.0 L311.5 138.2 L313.0 137.4 L314.5 136.6 L316.1 135.8 L317.6 135.1 L319.1 134.3 L320.6 133.5 L322.1 132.7 L323.6 132.0 L325.1 131.2 L326.6 130.4 L328.1 129.7 L329.6 128.9 L331.1 128.2 L332.6 127.4 L334.1 126.7 L335.6 126.0 L337.1 125.3 L338.6 124.5 L340.1 123.8 L341.6 123.1 L343.1 122.4 L344.6 121.7 L346.1 121.0 L347.6 120.3 L349.1 119.6 L350.6 119.0 L352.1 118.3 L353.6 117.6 L355.1 117.0 L356.6 116.3 L358.1 115.7 L359.6 115.0 L361.1 114.4 L362.6 113.7 L364.1 113.1 L365.6 112.5 L367.1 111.9 L368.6 111.3 L370.1 110.6 L371.6 110.0 L373.1 109.4 L374.6 108.9 L376.1 108.3 L377.6 107.7 L379.1 107.1 L380.6 106.5 L382.1 106.0 L383.6 105.4 L385.1 104.9 L386.6 104.3 L388.1 103.8 L389.6 103.2 L391.1 102.7 L392.6 102.2 L394.1 101.7 L395.6 101.1 L397.1 100.6 L398.6 100.1 L400.1 99.6 L401.6 99.1 L403.1 98.6 L404.6 98.2 L406.1 97.7 L407.6 97.2 L409.1 96.7 L410.6 96.3 L412.1 95.8 L413.6 95.4 L415.1 94.9 L416.6 94.5 L418.1 94.0 L419.6 93.6 L421.1 93.2 L422.7 92.8 L424.2 92.4 L425.7 92.0 L427.2 91.5 L428.7 91.2 L430.2 90.8 L431.7 90.4 L433.2 90.0 L434.7 89.6 L436.2 89.2 L437.7 88.9 L439.2 88.5 L440.7 88.2 L442.2 87.8 L443.7 87.5 L445.2 87.1 L446.7 86.8 L448.2 86.5 L449.7 86.1 L451.2 85.8 L452.7 85.5 L454.2 85.2 L455.7 84.9 L457.2 84.6 L458.7 84.3 L460.2 84.0 L461.7 83.8 L463.2 83.5 L464.7 83.2 L466.2 83.0 L467.7 82.7 L469.2 82.5 L470.7 82.2 L472.2 82.0 L473.7 81.8 L475.2 81.5 L476.7 81.3 L478.2 81.1 L479.7 80.9 L481.2 80.7 L482.7 80.5 L484.2 80.3 L485.7 80.1 L487.2 80.0 L488.7 79.8 L490.2 79.6 L491.7 79.5 L493.2 79.3 L494.7 79.2 L496.2 79.1 L497.7 78.9 L499.2 78.8 L500.7 78.7 L502.2 78.6 L503.7 78.5 L505.2 78.4 L506.7 78.3 L508.2 78.2 L509.7 78.2 L511.2 78.1 L512.7 78.0 L514.2 78.0 L515.7 77.9 L517.2 77.9 L518.7 77.9 L520.2 77.8 L521.7 77.8 L523.2 77.8 L524.7 77.8 L526.2 77.8 L527.7 77.8 L529.2 77.8 L530.8 77.8 L532.3 77.9 L533.8 77.9 L535.3 77.9 L536.8 78.0 L538.3 78.0 L539.8 78.1 L541.3 78.2 L542.8 78.2 L544.3 78.3 L545.8 78.4 L547.3 78.5 L548.8 78.6 L550.3 78.7 L551.8 78.8 L553.3 78.9 L554.8 79.1 L556.3 79.2 L557.8 79.3 L559.3 79.5 L560.8 79.6 L562.3 79.8 L563.8 80.0 L565.3 80.2 L566.8 80.3 L568.3 80.5 L569.8 80.7 L571.3 80.9 L572.8 81.2 L574.3 81.4 L575.8 81.6 L577.3 81.9 L578.8 82.1 L580.3 82.4 L581.8 82.6 L583.3 82.9 L584.8 83.2 L586.3 83.5 L587.8 83.8 L589.3 84.1 L590.8 84.4 L592.3 84.7 L593.8 85.0 L595.3 85.4 L596.8 85.7 L598.3 86.1 L599.8 86.4 L601.3 86.8 L602.8 87.2 L604.3 87.6 L605.8 88.0 L607.3 88.4 L608.8 88.8 L610.3 89.3 L611.8 89.8 L613.3 90.2 L614.8 90.7 L616.3 91.2 L617.8 91.8 L619.3 92.3 L620.8 92.9 L622.3 93.5 L623.8 94.1 L625.3 94.8 L626.8 95.4 L628.3 96.1 L629.8 96.8 L631.3 97.6 L632.8 98.3 L634.3 99.1 L635.8 99.9 L637.4 100.7 L638.9 101.5 L640.4 102.3 L641.9 103.2 L643.4 104.0 L644.9 104.9 L646.4 105.8 L647.9 106.7 L649.4 107.6 L650.9 108.5 L652.4 109.5 L653.9 110.5 L655.4 111.4 L656.9 112.4 L658.4 113.4 L659.9 114.4 L661.4 115.5 L662.9 116.5 L664.4 117.6 L665.9 118.7 L667.4 119.8 L668.9 120.9 L670.4 122.0 L671.9 123.1 L673.4 124.3 L674.9 125.5 L676.4 126.7 L677.9 127.9 L679.4 129.1 L680.9 130.4 L682.4 131.7 L683.9 133.0 L685.4 134.3 L686.9 135.7 L688.4 137.1 L689.9 138.5 L691.4 140.0 L692.9 141.5 L694.4 143.0 L695.9 144.5 L697.4 146.0 L698.9 147.6 L700.4 149.2 L701.9 150.8 L703.4 152.5 L704.9 154.2 L706.4 155.9 L707.9 157.6 L709.4 159.3 L710.9 161.1 L712.4 162.9 L713.9 164.7 L715.4 166.6 L716.9 168.4 L718.4 170.3 L719.9 172.2 L721.4 174.1 L722.9 176.1 L724.4 178.0 L725.9 180.0 L727.4 182.0 L728.9 184.1 L730.4 186.1 L731.9 188.2 L733.4 190.3 L734.9 192.5 L736.4 194.7 L737.9 196.9 L739.4 199.1 L740.9 201.4 L742.4 203.7 L744.0 206.1 L745.5 208.5 L747.0 211.0 L748.5 213.6 L750.0 216.2 L751.5 218.8 L753.0 221.5 L754.5 224.3 L756.0 227.1 L757.5 229.9 L759.0 232.9 L760.5 235.8 L762.0 238.8 L763.5 241.6 L765.0 244.5 L766.5 247.7 L768.0 251.0 L769.5 254.4 L771.0 257.8 L772.5 261.1 L774.0 264.3 L775.5 267.4 L777.0 270.6 L778.5 274.0 L780.0 277.6 L781.5 281.4 L783.0 285.6 L784.5 290.2 L786.0 295.3 L787.5 301.1 L789.0 307.6 L790.5 315.2 L792.0 324.2 L793.5 333.4 L795.0 342.5 L796.5 351.8" stroke="#000000" stroke-width="2.60" fill="none" stroke-dasharray="7.5 3.2" stroke-dashoffset="0.0" stroke-linejoin="round"/>
<path d="M96.5 215.6 L98.0 214.8 L99.5 214.0 L101.0 213.1 L102.5 212.3 L104.0 211.4 L105.5 210.6 L107.0 209.7 L108.5 208.9 L110.0 208.1 L111.5 207.2 L113.0 206.4 L114.5 205.5 L116.0 204.7 L117.5 203.9 L119.0 203.0 L120.5 202.2 L122.0 201.4 L123.5 200.5 L125.0 199.7 L126.5 198.9 L128.0 198.0 L129.5 197.2 L131.0 196.4 L132.5 195.5 L134.0 194.7 L135.5 193.9 L137.0 193.1 L138.5 192.2 L140.0 191.4 L141.5 190.6 L143.0 189.7 L144.5 188.9 L146.0 188.1 L147.5 187.2 L149.0 186.4 L150.5 185.5 L152.0 184.7 L153.5 183.9 L155.1 183.0 L156.6 182.2 L158.1 181.4 L159.6 180.5 L161.1 179.7 L162.6 178.8 L164.1 178.0 L165.6 177.2 L167.1 176.3 L168.6 175.5 L170.1 174.6 L171.6 173.8 L173.1 173.0 L174.6 172.2 L176.1 171.3 L177.6 170.5 L179.1 169.7 L180.6 168.8 L182.1 168.0 L183.6 167.2 L185.1 166.4 L186.6 165.6 L188.1 164.8 L189.6 164.0 L191.1 163.1 L192.6 162.3 L194.1 161.5 L195.6 160.7 L197.1 159.9 L198.6 159.1 L200.1 158.4 L201.6 157.6 L203.1 156.8 L204.6 156.0 L206.1 155.2 L207.6 154.4 L209.1 153.6 L210.6 152.9 L212.1 152.1 L213.6 151.3 L215.1 150.5 L216.6 149.7 L218.1 149.0 L219.6 148.2 L221.1 147.4 L222.6 146.6 L224.1 145.9 L225.6 145.1 L227.1 144.3 L228.6 143.5 L230.1 142.7 L231.6 142.0 L233.1 141.2 L234.6 140.4 L236.1 139.6 L237.6 138.9 L239.1 138.1 L240.6 137.3 L242.1 136.5 L243.6 135.8 L245.1 135.0 L246.6 134.2 L248.1 133.5 L249.6 132.7 L251.1 131.9 L252.6 131.2 L254.1 130.4 L255.6 129.7 L257.1 128.9 L258.6 128.2 L260.1 127.5 L261.6 126.7 L263.1 126.0 L264.6 125.3 L266.1 124.6 L267.6 123.9 L269.1 123.2 L270.6 122.4 L272.2 121.8 L273.7 121.1 L275.2 120.4 L276.7 119.7 L278.2 119.0 L279.7 118.3 L281.2 117.7 L282.7 117.0 L284.2 116.3 L285.7 115.7 L287.2 115.0 L288.7 114.3 L290.2 113.7 L291.7 113.0 L293.2 112.4 L294.7 111.7 L296.2 111.1 L297.7 110.5 L299.2 109.8 L300.7 109.2 L302.2 108.6 L303.7 107.9 L305.2 107.3 L306.7 106.7 L308.2 106.1 L309.7 105.5 L311.2 104.8 L312.7 104.2 L314.2 103.6 L315.7 103.0 L317.2 102.4 L318.7 101.8 L320.2 101.2 L321.7 100.6 L323.2 100.0 L324.7 99.5 L326.2 98.9 L327.7 98.3 L329.2 97.7 L330.7 97.1 L332.2 96.6 L333.7 96.0 L335.2 95.5 L336.7 94.9 L338.2 94.4 L339.7 93.8 L341.2 93.3 L342.7 92.7 L344.2 92.2 L345.7 91.7 L347.2 91.1 L348.7 90.6 L350.2 90.1 L351.7 89.6 L353.2 89.1 L354.7 88.6 L356.2 88.1 L357.7 87.6 L359.2 87.1 L360.7 86.6 L362.2 86.1 L363.7 85.6 L365.2 85.2 L366.7 84.7 L368.2 84.2 L369.7 83.8 L371.2 83.3 L372.7 82.9 L374.2 82.4 L375.7 82.0 L377.2 81.6 L378.7 81.1 L380.2 80.7 L381.7 80.3 L383.2 79.8 L384.7 79.4 L386.2 79.0 L387.8 78.6 L389.3 78.2 L390.8 77.8 L392.3 77.4 L393.8 77.0 L395.3 76.6 L396.8 76.3 L398.3 75.9 L399.8 75.5 L401.3 75.2 L402.8 74.8 L404.3 74.4 L405.8 74.1 L407.3 73.7 L408.8 73.4 L410.3 73.1 L411.8 72.7 L413.3 72.4 L414.8 72.1 L416.3 71.8 L417.8 71.5 L419.3 71.1 L420.8 70.8 L422.3 70.6 L423.8 70.3 L425.3 70.0 L426.8 69.7 L428.3 69.4 L429.8 69.2 L431.3 68.9 L432.8 68.6 L434.3 68.4 L435.8 68.1 L437.3 67.9 L438.8 67.7 L440.3 67.4 L441.8 67.2 L443.3 67.0 L444.8 66.8 L446.3 66.6 L447.8 66.4 L449.3 66.2 L450.8 66.0 L452.3 65.8 L453.8 65.7 L455.3 65.5 L456.8 65.3 L458.3 65.2 L459.8 65.0 L461.3 64.9 L462.8 64.7 L464.3 64.6 L465.8 64.5 L467.3 64.4 L468.8 64.2 L470.3 64.1 L471.8 64.0 L473.3 63.9 L474.8 63.9 L476.3 63.8 L477.8 63.7 L479.3 63.6 L480.8 63.6 L482.3 63.6 L483.8 63.5 L485.3 63.5 L486.8 63.5 L488.3 63.5 L489.8 63.5 L491.3 63.5 L492.8 63.5 L494.3 63.5 L495.8 63.5 L497.3 63.6 L498.8 63.6 L500.3 63.7 L501.8 63.7 L503.3 63.8 L504.9 63.9 L506.4 64.0 L507.9 64.1 L509.4 64.2 L510.9 64.4 L512.4 64.5 L513.9 64.7 L515.4 64.8 L516.9 65.0 L518.4 65.2 L519.9 65.4 L521.4 65.6 L522.9 65.8 L524.4 66.0 L525.9 66.2 L527.4 66.4 L528.9 66.7 L530.4 66.9 L531.9 67.2 L533.4 67.5 L534.9 67.8 L536.4 68.1 L537.9 68.4 L539.4 68.7 L540.9 69.0 L542.4 69.3 L543.9 69.7 L545.4 70.0 L546.9 70.4 L548.4 70.7 L549.9 71.1 L551.4 71.5 L552.9 71.9 L554.4 72.3 L555.9 72.7 L557.4 73.1 L558.9 73.5 L560.4 74.0 L561.9 74.4 L563.4 74.9 L564.9 75.4 L566.4 75.9 L567.9 76.4 L569.4 76.9 L570.9 77.4 L572.4 78.0 L573.9 78.6 L575.4 79.2 L576.9 79.8 L578.4 80.4 L579.9 81.0 L581.4 81.7 L582.9 82.4 L584.4 83.1 L585.9 83.8 L587.4 84.5 L588.9 85.3 L590.4 86.0 L591.9 86.8 L593.4 87.6 L594.9 88.5 L596.4 89.3 L597.9 90.2 L599.4 91.1 L600.9 92.0 L602.4 93.0 L603.9 93.9 L605.4 94.9 L606.9 95.9 L608.4 97.0 L609.9 98.0 L611.4 99.1 L612.9 100.2 L614.4 101.3 L615.9 102.5 L617.4 103.6 L618.9 104.8 L620.5 106.0 L622.0 107.2 L623.5 108.4 L625.0 109.6 L626.5 110.9 L628.0 112.1 L629.5 113.4 L631.0 114.6 L632.5 115.9 L634.0 117.2 L635.5 118.5 L637.0 119.8 L638.5 121.1 L640.0 122.5 L641.5 123.8 L643.0 125.1 L644.5 126.5 L646.0 127.9 L647.5 129.2 L649.0 130.6 L650.5 132.0 L652.0 133.4 L653.5 134.8 L655.0 136.2 L656.5 137.7 L658.0 139.1 L659.5 140.6 L661.0 142.1 L662.5 143.6 L664.0 145.2 L665.5 146.7 L667.0 148.3 L668.5 149.9 L670.0 151.6 L671.5 153.2 L673.0 154.9 L674.5 156.6 L676.0 158.4 L677.5 160.2 L679.0 162.0 L680.5 163.9 L682.0 165.7 L683.5 167.6 L685.0 169.6 L686.5 171.6 L688.0 173.6 L689.5 175.6 L691.0 177.7 L692.5 179.8 L694.0 181.9 L695.5 184.0 L697.0 186.2 L698.5 188.4 L700.0 190.6 L701.5 192.8 L703.0 195.1 L704.5 197.4 L706.0 199.8 L707.5 202.3 L709.0 204.8 L710.5 207.3 L712.0 209.9 L713.5 212.6 L715.0 215.3 L716.5 218.0 L718.0 220.7 L719.5 223.5 L721.0 226.2 L722.5 229.1 L724.0 232.1 L725.5 235.1 L727.0 238.2 L728.5 241.2 L730.0 244.1 L731.5 247.0 L733.0 249.9 L734.5 252.8 L736.0 255.6 L737.6 258.4 L739.1 261.2 L740.6 264.0 L742.1 267.0 L743.6 270.2 L745.1 273.2 L746.6 275.9 L748.1 278.5 L749.6 280.8 L751.1 283.1 L752.6 285.2 L754.1 287.1 L755.6 289.0 L757.1 290.7 L758.6 292.2 L760.1 293.6 L761.6 294.8 L763.1 296.0 L764.6 297.0 L766.1 297.8 L767.6 298.4 L769.1 298.9 L770.6 299.4 L772.1 299.8 L773.6 300.1 L775.1 300.5 L776.6 300.8 L778.1 301.0 L779.6 301.3 L781.1 301.5 L782.6 301.9 L784.1 302.3 L785.6 302.8 L787.1 303.4 L788.6 304.2 L790.1 305.1 L791.6 306.5 L793.1 308.1 L794.6 309.9" stroke="#ff0000" stroke-width="2.60" fill="none" stroke-dasharray="7.5 3.2" stroke-dashoffset="6.4" stroke-linejoin="round"/>
<path d="M111.5 460.7 L113.0 459.8 L114.5 458.9 L116.0 458.0 L117.5 457.1 L119.0 456.2 L120.5 455.3 L122.0 454.4 L123.5 453.5 L125.0 452.7 L126.5 451.8 L128.0 450.9 L129.5 450.0 L131.0 449.1 L132.5 448.2 L134.0 447.3 L135.5 446.4 L137.0 445.4 L138.5 444.5 L140.0 443.6 L141.5 442.7 L143.0 441.8 L144.5 440.9 L146.0 439.9 L147.5 439.0 L149.0 438.1 L150.5 437.1 L152.0 436.2 L153.5 435.2 L155.0 434.3 L156.5 433.3 L158.0 432.4 L159.5 431.4 L161.1 430.5 L162.6 429.5 L164.1 428.5 L165.6 427.5 L167.1 426.6 L168.6 425.6 L170.1 424.6 L171.6 423.6 L173.1 422.6 L174.6 421.6 L176.1 420.6 L177.6 419.6 L179.1 418.6 L180.6 417.6 L182.1 416.5 L183.6 415.5 L185.1 414.5 L186.6 413.5 L188.1 412.4 L189.6 411.4 L191.1 410.4 L192.6 409.3 L194.1 408.3 L195.6 407.3 L197.1 406.2 L198.6 405.2 L200.1 404.1 L201.6 403.1 L203.1 402.0 L204.6 401.0 L206.1 399.9 L207.6 398.9 L209.1 397.8 L210.6 396.8 L212.1 395.7 L213.6 394.7 L215.1 393.6 L216.6 392.5 L218.1 391.5 L219.6 390.4 L221.1 389.4 L222.6 388.3 L224.1 387.2 L225.6 386.2 L227.1 385.1 L228.6 384.0 L230.1 383.0 L231.6 381.9 L233.1 380.8 L234.6 379.8 L236.1 378.7 L237.6 377.6 L239.1 376.5 L240.6 375.4 L242.1 374.4 L243.6 373.3 L245.1 372.2 L246.6 371.1 L248.1 370.0 L249.6 368.9 L251.1 367.8 L252.6 366.7 L254.1 365.6 L255.6 364.4 L257.1 363.3 L258.7 362.2 L260.2 361.1 L261.7 359.9 L263.2 358.8 L264.7 357.7 L266.2 356.5 L267.7 355.4 L269.2 354.2 L270.7 353.1 L272.2 351.9 L273.7 350.8 L275.2 349.6 L276.7 348.4 L278.2 347.2 L279.7 346.1 L281.2 344.9 L282.7 343.7 L284.2 342.5 L285.7 341.3 L287.2 340.1 L288.7 338.9 L290.2 337.7 L291.7 336.5 L293.2 335.3 L294.7 334.1 L296.2 332.8 L297.7 331.6 L299.2 330.4 L300.7 329.2 L302.2 327.9 L303.7 326.7 L305.2 325.5 L306.7 324.2 L308.2 323.0 L309.7 321.7 L311.2 320.5 L312.7 319.3 L314.2 318.0 L315.7 316.7 L317.2 315.5 L318.7 314.2 L320.2 313.0 L321.7 311.7 L323.2 310.5 L324.7 309.2 L326.2 307.9 L327.7 306.7 L329.2 305.4 L330.7 304.1 L332.2 302.9 L333.7 301.6 L335.2 300.3 L336.7 299.1 L338.2 297.8 L339.7 296.5 L341.2 295.3 L342.7 294.0 L344.2 292.7 L345.7 291.4 L347.2 290.2 L348.7 288.9 L350.2 287.6 L351.7 286.3 L353.2 285.1 L354.7 283.8 L356.2 282.5 L357.8 281.2 L359.3 279.9 L360.8 278.7 L362.3 277.4 L363.8 276.1 L365.3 274.8 L366.8 273.5 L368.3 272.2 L369.8 271.0 L371.3 269.7 L372.8 268.4 L374.3 267.1 L375.8 265.8 L377.3 264.5 L378.8 263.2 L380.3 262.0 L381.8 260.7 L383.3 259.4 L384.8 258.1 L386.3 256.8 L387.8 255.5 L389.3 254.2 L390.8 252.9 L392.3 251.6 L393.8 250.3 L395.3 249.1 L396.8 247.8 L398.3 246.5 L399.8 245.2 L401.3 243.9 L402.8 242.6 L404.3 241.3 L405.8 240.0 L407.3 238.7 L408.8 237.4 L410.3 236.1 L411.8 234.8 L413.3 233.5 L414.8 232.2 L416.3 230.9 L417.8 229.6 L419.3 228.3 L420.8 227.0 L422.3 225.7 L423.8 224.4 L425.3 223.1 L426.8 221.8 L428.3 220.5 L429.8 219.2 L431.3 217.8 L432.8 216.5 L434.3 215.2 L435.8 213.9 L437.3 212.6 L438.8 211.3 L440.3 210.0 L441.8 208.7 L443.3 207.4 L444.8 206.1 L446.3 204.8 L447.8 203.5 L449.3 202.1 L450.8 200.8 L452.3 199.6 L453.8 198.3 L455.4 197.0 L456.9 195.7 L458.4 194.4 L459.9 193.1 L461.4 191.9 L462.9 190.6 L464.4 189.3 L465.9 188.1 L467.4 186.8 L468.9 185.6 L470.4 184.3 L471.9 183.1 L473.4 181.9 L474.9 180.7 L476.4 179.4 L477.9 178.2 L479.4 177.0 L480.9 175.9 L482.4 174.7 L483.9 173.5 L485.4 172.3 L486.9 171.2 L488.4 170.0 L489.9 168.9 L491.4 167.7 L492.9 166.6 L494.4 165.4 L495.9 164.3 L497.4 163.2 L498.9 162.0 L500.4 160.9 L501.9 159.8 L503.4 158.7 L504.9 157.5 L506.4 156.4 L507.9 155.3 L509.4 154.2 L510.9 153.1 L512.4 152.0 L513.9 150.9 L515.4 149.8 L516.9 148.7 L518.4 147.6 L519.9 146.5 L521.4 145.4 L522.9 144.3 L524.4 143.2 L525.9 142.1 L527.4 141.0 L528.9 140.0 L530.4 138.9 L531.9 137.8 L533.4 136.8 L534.9 135.7 L536.4 134.6 L537.9 133.6 L539.4 132.5 L540.9 131.5 L542.4 130.5 L543.9 129.4 L545.4 128.4 L546.9 127.4 L548.4 126.4 L549.9 125.4 L551.4 124.4 L553.0 123.4 L554.5 122.4 L556.0 121.4 L557.5 120.4 L559.0 119.4 L560.5 118.4 L562.0 117.5 L563.5 116.5 L565.0 115.5 L566.5 114.6 L568.0 113.6 L569.5 112.6 L571.0 111.7 L572.5 110.7 L574.0 109.8 L575.5 108.8 L577.0 107.8 L578.5 106.9 L580.0 105.9 L581.5 105.0 L583.0 104.0 L584.5 103.1 L586.0 102.1 L587.5 101.2 L589.0 100.2 L590.5 99.3 L592.0 98.4 L593.5 97.4 L595.0 96.5 L596.5 95.6 L598.0 94.7 L599.5 93.7 L601.0 92.8 L602.5 91.9 L604.0 91.0 L605.5 90.1 L607.0 89.3 L608.5 88.4 L610.0 87.5 L611.5 86.7 L613.0 85.9 L614.5 85.1 L616.0 84.3 L617.5 83.5 L619.0 82.7 L620.5 81.9 L622.0 81.2 L623.5 80.5 L625.0 79.8 L626.5 79.1 L628.0 78.4 L629.5 77.7 L631.0 77.1 L632.5 76.4 L634.0 75.8 L635.5 75.2 L637.0 74.6 L638.5 74.0 L640.0 73.4 L641.5 72.9 L643.0 72.3 L644.5 71.8 L646.0 71.3 L647.5 70.8 L649.0 70.3 L650.5 69.9 L652.1 69.4 L653.6 69.0 L655.1 68.6 L656.6 68.2 L658.1 67.8 L659.6 67.4 L661.1 67.1 L662.6 66.8 L664.1 66.5 L665.6 66.2 L667.1 65.9 L668.6 65.7 L670.1 65.5 L671.6 65.2 L673.1 65.1 L674.6 64.9 L676.1 64.7 L677.6 64.6 L679.1 64.5 L680.6 64.4 L682.1 64.4 L683.6 64.4 L685.1 64.3 L686.6 64.3 L688.1 64.3 L689.6 64.4 L691.1 64.4 L692.6 64.6 L694.1 64.7 L695.6 64.8 L697.1 65.0 L698.6 65.2 L700.1 65.4 L701.6 65.6 L703.1 65.9 L704.6 66.2 L706.1 66.6 L707.6 66.9 L709.1 67.3 L710.6 67.7 L712.1 68.2 L713.6 68.6 L715.1 69.1 L716.6 69.7 L718.1 70.2 L719.6 70.8 L721.1 71.4 L722.6 72.1 L724.1 72.8 L725.6 73.5 L727.1 74.2 L728.6 75.0 L730.1 75.9 L731.6 76.7 L733.1 77.6 L734.6 78.6 L736.1 79.6 L737.6 80.6 L739.1 81.7 L740.6 82.8 L742.1 83.9 L743.6 85.2 L745.1 86.4 L746.6 87.7 L748.1 89.1 L749.7 90.5 L751.2 92.0 L752.7 93.5 L754.2 95.1 L755.7 96.7 L757.2 98.3 L758.7 100.0 L760.2 101.8 L761.7 103.6 L763.2 105.4 L764.7 107.3 L766.2 109.2 L767.7 111.2 L769.2 113.2 L770.7 115.4 L772.2 117.7 L773.7 120.1 L775.2 122.6 L776.7 125.0 L778.2 127.5 L779.7 130.0 L781.2 132.5 L782.7 135.0 L784.2 137.5 L785.7 140.0 L787.2 142.5 L788.7 145.0 L790.2 147.4 L791.7 149.8 L793.2 152.1 L794.7 154.5 L796.2 156.8 L797.7 159.0" stroke="#00a600" stroke-width="2.60" fill="none" stroke-dasharray="7.5 3.2" stroke-dashoffset="0.0" stroke-linejoin="round"/>
</g>
<path d="M96.95 11.00 V461.00" stroke="#7c7c7c" stroke-width="1.05" fill="none"/>
<path d="M823.50 11.00 V461.00" stroke="#6c6c6c" stroke-width="1.15" fill="none"/>
<path d="M96.4 11.50 H824.05" stroke="#666" stroke-width="1.15" fill="none"/>
<path d="M96.4 460.50 H824.05" stroke="#606060" stroke-width="1.15" fill="none"/>
<g font-family="'Liberation Sans', sans-serif" font-weight="bold" fill="#666666" font-size="22.5">
<text x="92.9" y="16.5" text-anchor="end">1000</text>
<text x="92.9" y="128.8" text-anchor="end">100</text>
<text x="92.9" y="241.0" text-anchor="end">10</text>
<text x="92.9" y="353.2" text-anchor="end">1</text>
<text x="92.9" y="465.5" text-anchor="end">0.1</text>
<text x="96.3" y="481.6" text-anchor="middle" font-size="22.3">1</text>
<text x="245.9" y="481.6" text-anchor="middle" font-size="22.3">5</text>
<text x="310.3" y="481.6" text-anchor="middle" font-size="22.3">10</text>
<text x="459.9" y="481.6" text-anchor="middle" font-size="22.3">50</text>
<text x="524.3" y="481.6" text-anchor="middle" font-size="22.3">100</text>
<text x="673.9" y="481.6" text-anchor="middle" font-size="22.3">500</text>
<text x="738.3" y="481.6" text-anchor="middle" font-size="22.3">1000</text>
</g>
<g font-family="'Liberation Sans', sans-serif" font-weight="bold" fill="#666666" font-size="23.7">
<text x="413.0" y="515.7" font-style="italic">E</text>
<text x="428.2" y="519.9" font-style="italic" font-weight="normal" font-size="18">&#947;</text>
<text x="446.2" y="515.7" font-size="23.3">[GeV]</text>
<g transform="translate(26.8 333.5) rotate(-90)">
<text x="-0.2" y="0" font-style="italic" font-size="24.6">E</text>
<text x="15.9" y="3.8" font-style="italic" font-weight="normal" font-size="18">&#947;</text>
<text x="24.9" y="-11.7" font-size="17.5">2</text>
<text x="45.8" y="0">dN/dE</text>
<text x="115.6" y="3.8" font-style="italic" font-weight="normal" font-size="18">&#947;</text>
<text x="134.8" y="0" font-size="23.3">[GeV]</text>
</g>
</g>
<g font-family="'Liberation Sans', sans-serif" font-weight="bold" fill="#000">
<text x="135.5" y="61.5" font-size="21.8"><tspan font-style="italic" font-size="20.8">m</tspan><tspan font-size="15.5" dy="3.4" dx="0.8">DM</tspan><tspan dy="-3.4" x="185.6" font-size="20">=</tspan><tspan x="203.6">2</tspan><tspan dx="2.2">TeV</tspan></text>
</g>
<path d="M233.6 405.8 H287.6" stroke="#6e6e6e" stroke-width="1.9" fill="none"/>
<path d="M233.6 435.1 H287.6" stroke="#6e6e6e" stroke-width="2.0" stroke-dasharray="7.4 3.7" fill="none"/>
<g font-family="'Liberation Sans', sans-serif" font-weight="bold" fill="#000" font-size="17.8" letter-spacing="0.3">
<text x="298.6" y="412.2">PPPC</text>
<text x="298.6" y="441.3" letter-spacing="0.15">DarkSUSY</text>
</g>
<path d="M560.7 342.8 H587.0" stroke="#ff0000" stroke-width="1.9" fill="none"/>
<path d="M560.7 372.1 H587.0" stroke="#00a600" stroke-width="1.9" fill="none"/>
<path d="M560.7 401.4 H587.0" stroke="#0000ff" stroke-width="1.9" fill="none"/>
<path d="M560.7 430.2 H587.0" stroke="#000000" stroke-width="1.9" fill="none"/>
<g font-family="'Liberation Sans', sans-serif" font-weight="bold" fill="#000" font-size="17.8">
<text x="598.6" y="349.0" font-style="italic">b</text>
<text x="611.2" y="349.0" font-style="italic">b</text>
<path d="M610.8 333.6 H621.8" stroke="#000" stroke-width="1.2"/>
<text x="599.3" y="378.2" font-style="italic" font-weight="normal" font-size="17.5">&#964;</text>
<text x="605.6" y="372.3" font-size="13" font-weight="normal">+</text>
<text x="616.3" y="378.2" font-style="italic" font-weight="normal" font-size="17.5">&#964;</text>
<text x="622.7" y="372.3" font-size="13" font-weight="normal">&#8722;</text>
<text x="599.6" y="407.2" font-style="italic">W</text>
<text x="617.3" y="401.6" font-size="12">+</text>
<text x="627.5" y="407.2" font-style="italic">W</text>
<text x="645.6" y="401.6" font-size="12">&#8722;</text>
<text x="663.0" y="407.2" letter-spacing="0.12" word-spacing="0.6">w/ simpl. EW corr.</text>
<text x="599.6" y="436.4" font-style="italic">W</text>
<text x="617.3" y="430.8" font-size="12">+</text>
<text x="627.5" y="436.4" font-style="italic">W</text>
<text x="645.6" y="430.8" font-size="12">&#8722;</text>
<text x="659.0" y="436.4" letter-spacing="0.12" word-spacing="0.6">no EW corr.</text>
</g>
</svg>
</body></html>
